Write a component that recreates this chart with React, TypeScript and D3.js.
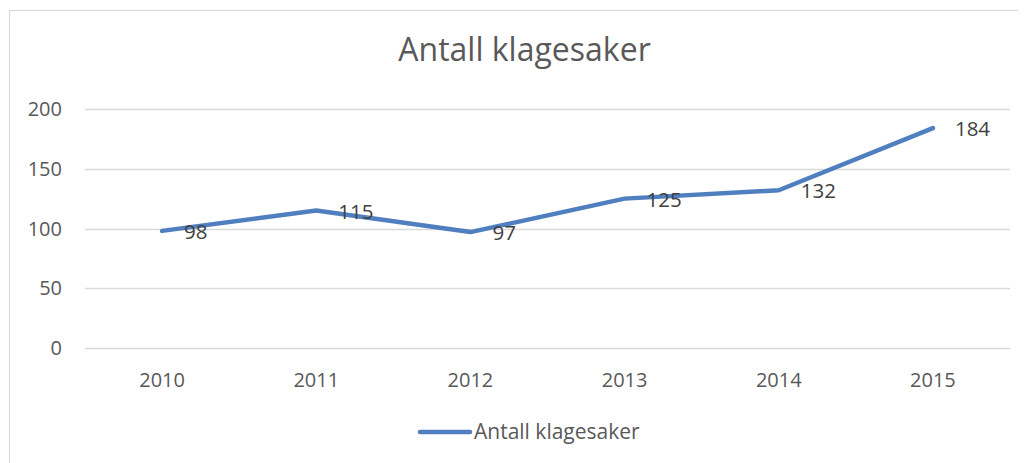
import { useEffect, useRef } from 'react';
import * as d3 from 'd3';

const years = ['2010', '2011', '2012', '2013', '2014', '2015'];
const cases = [98, 115, 97, 125, 132, 184];
const yTicks = [0, 50, 100, 150, 200];
const seriesName = 'Antall klagesaker';
const title = 'Antall klagesaker';

const W = 1018;
const H = 455;
const FONT = "'Open Sans', sans-serif";
const TEXT = '#595959';
const BLUE = '#4f7fbf';

export default function App() {
  const ref = useRef<SVGSVGElement | null>(null);

  useEffect(() => {
    if (!ref.current) return;
    const svg = d3.select(ref.current);
    svg.selectAll('*').remove();

    // svg sits at the 8px body margin, so page coords = svg coords + 8
    const left = 77;
    const right = 1002;
    const top = 101;
    const bottom = 340;

    svg.append('rect')
      .attr('x', 1.5).attr('y', 2.5)
      .attr('width', W + 40).attr('height', H + 40)
      .attr('fill', '#fff')
      .attr('stroke', '#d9d9d9')
      .attr('stroke-width', 1.2);

    const x = d3.scaleBand().domain(years).range([left, right]);
    const y = d3.scaleLinear().domain([0, 200]).range([bottom, top]);
    const cx = (d: string) => x(d)! + x.bandwidth() / 2;

    svg.append('text')
      .attr('x', 516.5).attr('y', 53)
      .attr('text-anchor', 'middle')
      .attr('font-family', FONT)
      .attr('font-size', 32)
      .attr('fill', TEXT)
      .text(title);

    const grid = svg.append('g');
    grid.selectAll('line')
      .data(yTicks)
      .enter()
      .append('line')
      .attr('x1', left).attr('x2', right)
      .attr('y1', d => Math.round(y(d)) + 0.5)
      .attr('y2', d => Math.round(y(d)) + 0.5)
      .attr('stroke', '#d9d9d9')
      .attr('stroke-width', 1.3);

    svg.append('g')
      .selectAll('text')
      .data(yTicks)
      .enter()
      .append('text')
      .attr('x', 54)
      .attr('y', d => y(d))
      .attr('dy', '0.35em')
      .attr('text-anchor', 'end')
      .attr('font-family', FONT)
      .attr('font-size', 20)
      .attr('fill', TEXT)
      .text(d => d);

    svg.append('g')
      .selectAll('text')
      .data(years)
      .enter()
      .append('text')
      .attr('x', d => cx(d))
      .attr('y', 379)
      .attr('text-anchor', 'middle')
      .attr('font-family', FONT)
      .attr('font-size', 20)
      .attr('fill', TEXT)
      .text(d => d);

    const data = years.map((yr, i) => ({ yr, v: cases[i] }));
    const line = d3.line<{ yr: string; v: number }>()
      .x(d => cx(d.yr))
      .y(d => y(d.v));

    svg.append('path')
      .datum(data)
      .attr('fill', 'none')
      .attr('stroke', BLUE)
      .attr('stroke-width', 4.5)
      .attr('stroke-linecap', 'round')
      .attr('stroke-linejoin', 'round')
      .attr('d', line);

    svg.append('g')
      .selectAll('text')
      .data(data)
      .enter()
      .append('text')
      .attr('x', d => cx(d.yr) + 22)
      .attr('y', d => y(d.v) + 1)
      .attr('dy', '0.35em')
      .attr('font-family', FONT)
      .attr('font-size', 20.5)
      .attr('fill', '#404040')
      .text(d => d.v);

    const lg = svg.append('g');
    lg.append('line')
      .attr('x1', 412).attr('x2', 462)
      .attr('y1', 424).attr('y2', 424)
      .attr('stroke', BLUE)
      .attr('stroke-width', 4.5)
      .attr('stroke-linecap', 'round');
    lg.append('text')
      .attr('x', 466).attr('y', 424)
      .attr('dy', '0.35em')
      .attr('font-family', FONT)
      .attr('font-size', 21)
      .attr('fill', TEXT)
      .text(seriesName);
  }, []);

  return <svg ref={ref} width={W} height={H} style={{ display: 'block' }}></svg>;
}
